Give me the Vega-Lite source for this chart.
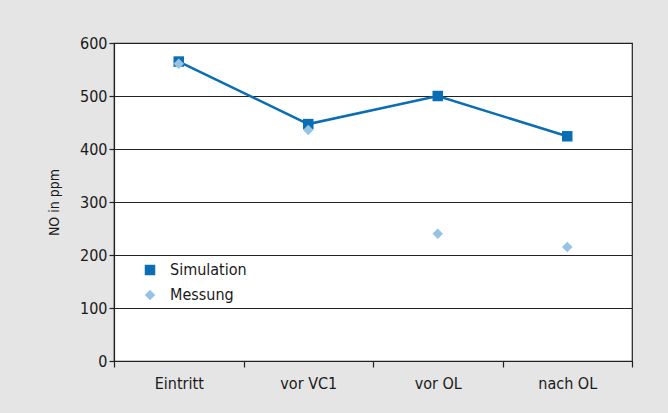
{
  "$schema": "https://vega.github.io/schema/vega-lite/v6.json",
  "width": 518,
  "height": 318,
  "autosize": {"type": "none"},
  "padding": {"left": 114, "top": 43, "right": 36, "bottom": 52},
  "background": "#e4e5e4",
  "config": {
    "font": "DejaVu Sans Condensed, Liberation Sans Narrow, Arial Narrow, sans-serif",
    "view": {"stroke": "#222", "strokeWidth": 1.2, "fill": "white"},
    "axis": {"labelFont": "DejaVu Sans Condensed, Liberation Sans Narrow, sans-serif", "titleFont": "DejaVu Sans Condensed, Liberation Sans Narrow, sans-serif"},
    "legend": {"labelFont": "DejaVu Sans Condensed, Liberation Sans Narrow, sans-serif"}
  },
  "data": {
    "values": [
      {"cat": "Eintritt", "series": "Simulation", "value": 565},
      {"cat": "vor VC1", "series": "Simulation", "value": 447},
      {"cat": "vor OL", "series": "Simulation", "value": 500},
      {"cat": "nach OL", "series": "Simulation", "value": 424},
      {"cat": "Eintritt", "series": "Messung", "value": 561},
      {"cat": "vor VC1", "series": "Messung", "value": 436},
      {"cat": "vor OL", "series": "Messung", "value": 240},
      {"cat": "nach OL", "series": "Messung", "value": 215}
    ]
  },
  "encoding": {
    "x": {
      "field": "cat",
      "type": "nominal",
      "sort": ["Eintritt", "vor VC1", "vor OL", "nach OL"],
      "scale": {"type": "band", "paddingInner": 0, "paddingOuter": 0},
      "axis": {
        "title": null,
        "labelAngle": 0,
        "labelFontSize": 16,
        "labelColor": "#1a1a1a",
        "labelPadding": 8,
        "tickBand": "extent",
        "tickSize": 6,
        "tickColor": "#222",
        "tickWidth": 1.2,
        "domainColor": "#222",
        "domainWidth": 1.2,
        "grid": false
      }
    },
    "y": {
      "field": "value",
      "type": "quantitative",
      "scale": {"domain": [0, 600]},
      "axis": {
        "title": "NO in ppm",
        "titleFontSize": 14,
        "titleFontWeight": "normal",
        "titleColor": "#1a1a1a",
        "titlePadding": 18,
        "values": [0, 100, 200, 300, 400, 500, 600],
        "labelFontSize": 16,
        "labelColor": "#1a1a1a",
        "labelPadding": 2,
        "tickSize": 5,
        "tickColor": "#222",
        "tickWidth": 1.2,
        "domainColor": "#222",
        "domainWidth": 1.2,
        "grid": true,
        "gridColor": "#222",
        "gridWidth": 1.2,
        "gridOpacity": 1
      }
    }
  },
  "layer": [
    {
      "transform": [{"filter": "datum.series === 'Simulation'"}],
      "mark": {"type": "line", "color": "#0a6eb4", "strokeWidth": 2.5},
      "encoding": {}
    },
    {
      "mark": {"type": "point", "filled": true, "opacity": 1, "size": 110},
      "encoding": {
        "color": {
          "field": "series",
          "type": "nominal",
          "scale": {"domain": ["Simulation", "Messung"], "range": ["#0a6eb4", "#95c3e4"]},
          "legend": {
            "title": null,
            "orient": "none",
            "legendX": 28,
            "legendY": 219,
            "labelFontSize": 16,
            "labelColor": "#1a1a1a",
            "rowPadding": 9,
            "symbolSize": 110,
            "symbolOpacity": 1,
            "labelOffset": 12
          }
        },
        "shape": {
          "field": "series",
          "type": "nominal",
          "scale": {"domain": ["Simulation", "Messung"], "range": ["square", "diamond"]},
          "legend": null
        },
        "order": {"field": "series", "sort": "descending"}
      }
    }
  ]
}
